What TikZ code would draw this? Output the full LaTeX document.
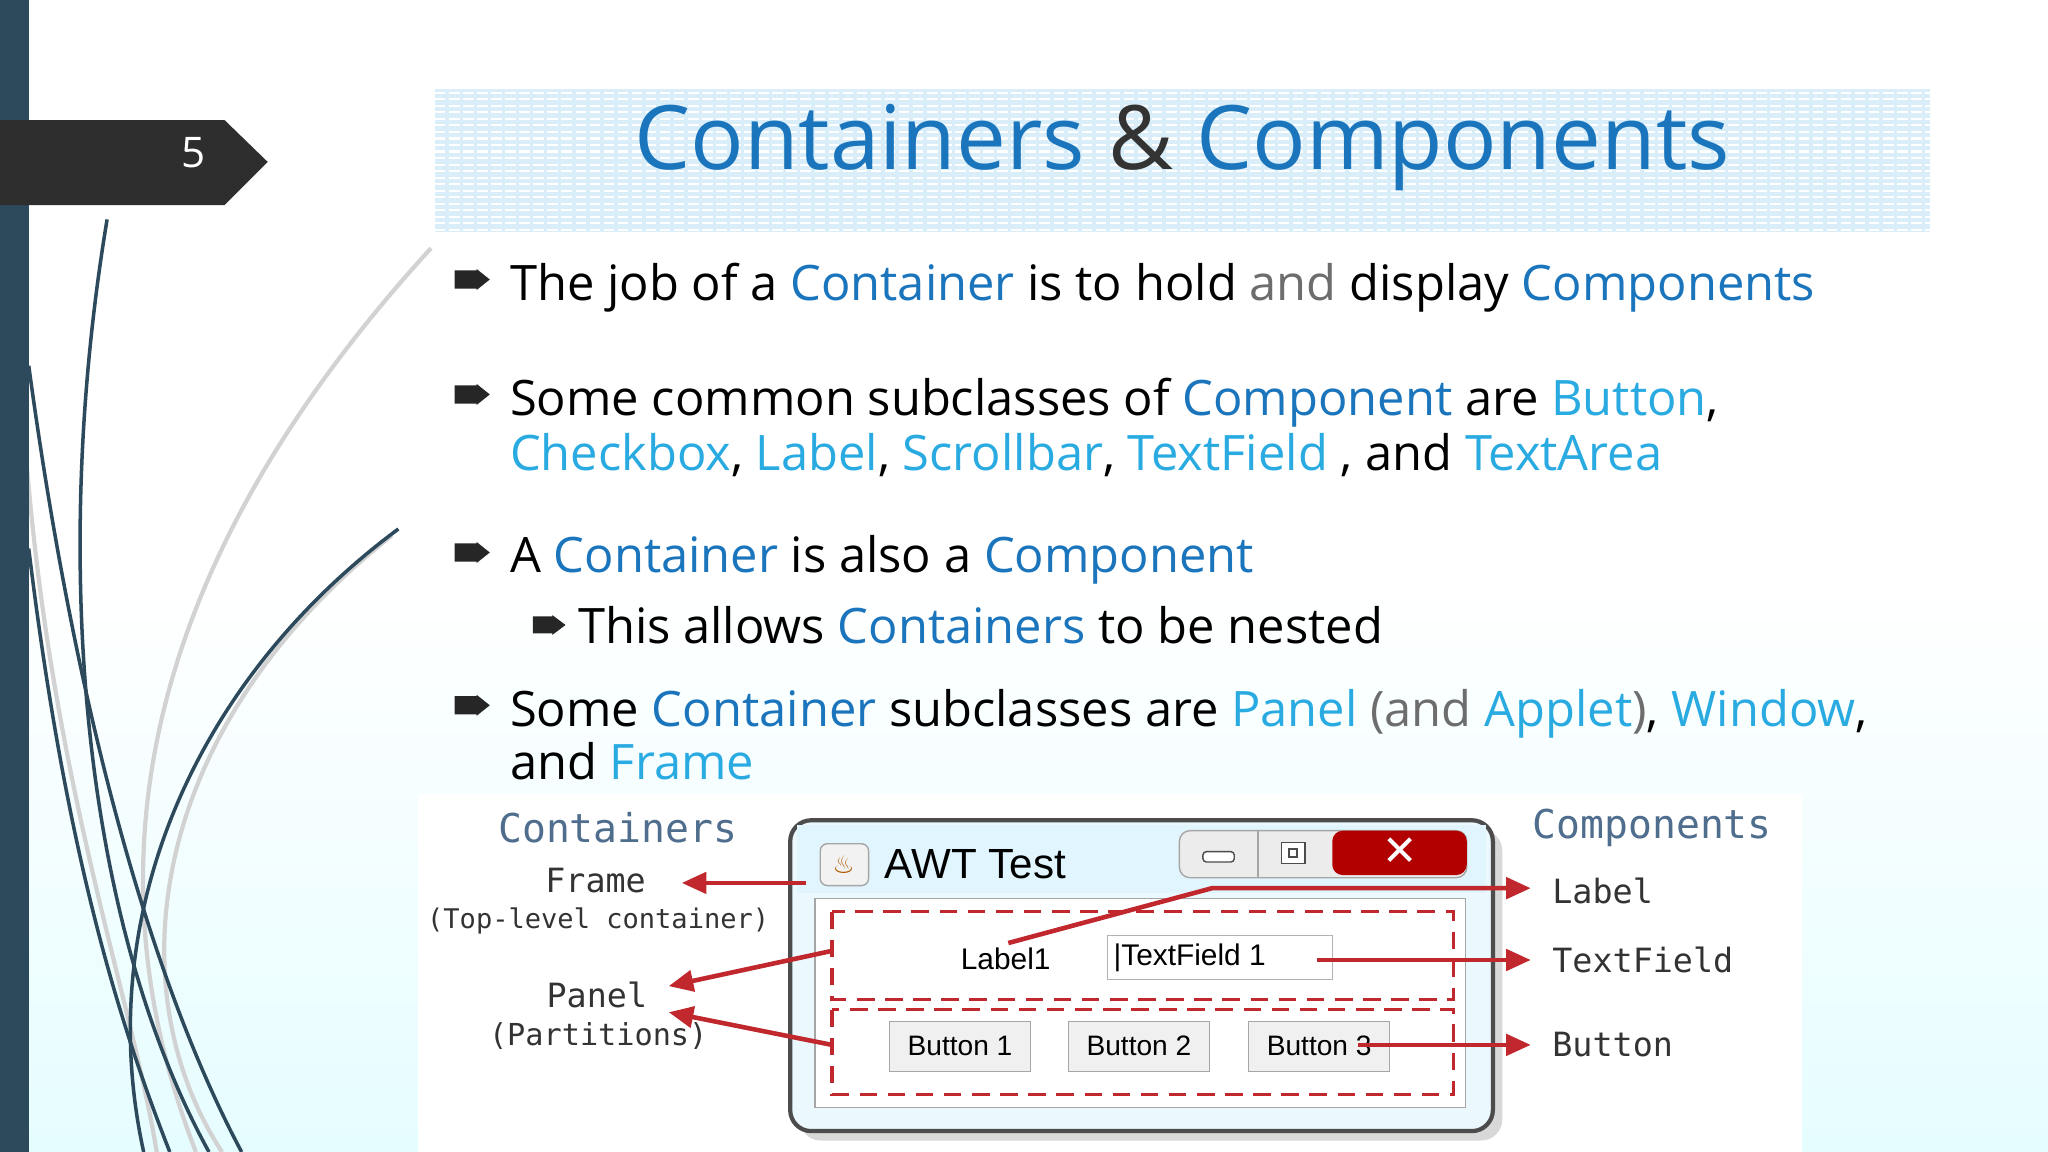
\documentclass[tikz,border=0pt]{standalone}
\usepackage{fontspec}
\setmainfont{Open Sans}
\newfontfamily\monof{DejaVu Sans Mono}
\newfontfamily\winf{Liberation Sans}
\newfontfamily\symf{DejaVu Sans}
\usetikzlibrary{arrows.meta,shadows}
\definecolor{dk}{HTML}{1B75BC}
\definecolor{lt}{HTML}{29ABE2}
\definecolor{gr}{HTML}{6D6D6D}
\definecolor{bar}{HTML}{2C4A5C}
\definecolor{arr}{HTML}{C0282D}
\definecolor{lbl}{HTML}{4F6E8E}
\definecolor{tbox}{HTML}{D9EEF8}
\tikzset{
 body/.style={anchor=base west,font=\fontsize{13.9}{17}\selectfont,text=black,inner sep=0},
 flab/.style={font=\monof\fontsize{9.5}{11}\selectfont,text=black!80,inner sep=0},
 fhead/.style={font=\monof\fontsize{11.3}{13}\selectfont,text=lbl,inner sep=0},
 redarr/.style={draw=arr,line width=1.3pt,-{Triangle[length=7pt,width=6pt]}},
 dashbox/.style={draw=arr,line width=0.9pt,dash pattern=on 5pt off 3pt},
 wbtn/.style={draw=gray!70,fill=gray!12,font=\winf\fontsize{8}{10}\selectfont,inner sep=0,minimum width=1.41cm,minimum height=0.5cm},
 curveA/.style={draw=bar,line width=1pt},
 curveB/.style={draw=gray!35,line width=1.2pt}
}
\newcommand{\dk}[1]{\textcolor{dk}{#1}}
\newcommand{\lt}[1]{\textcolor{lt}{#1}}
\newcommand{\grr}[1]{\textcolor{gr}{#1}}
\begin{document}
\begin{tikzpicture}[x=0.013061cm,y=-0.013061cm]
\useasboundingbox (0,0) rectangle (1568,882);
\fill[white] (0,0) rectangle (1568,450);
\shade[top color=white,bottom color=blue!8!cyan!10] (0,450) rectangle (1568,882);
% left curves
\draw[curveB] (330,190) .. controls (120,420) and (60,650) .. (150,882);
\draw[curveB] (300,410) .. controls (110,560) and (90,760) .. (170,882);
\draw[curveB] (20,350) .. controls (40,600) and (100,760) .. (120,882);
\draw[curveA] (82,168) .. controls (40,420) and (60,700) .. (160,882);
\draw[curveA] (305,405) .. controls (150,520) and (70,700) .. (110,882);
\draw[curveA] (22,280) .. controls (60,560) and (120,760) .. (185,882);
\draw[curveA] (22,420) .. controls (50,650) and (90,780) .. (130,882);
\fill[bar] (0,0) rectangle (22,882);
% number tab
\fill[black!82] (0,92) -- (172,92) -- (205,124) -- (172,157) -- (0,157) -- cycle;
\node[font=\fontsize{12}{14}\selectfont,text=white] (num) at (148,117) {5};
% title box
\fill[tbox] (333,68) rectangle (1478,178);
\foreach \yy in {71,76,...,176} \draw[white,line width=0.6pt,dash pattern=on 3pt off 1pt] (333,\yy) -- (1478,\yy);
\node[font=\fontsize{25.3}{30}\selectfont,inner sep=0,anchor=base] (title) at (905,130) {\dk{Containers} \textcolor{black!80}{\&} \dk{Components}};
% bullets
\foreach \bx/\by in {361/214,361/302,361/423,361/540}
  \fill[black!85] (\bx-13,\by-7) rectangle (\bx+4,\by+7) (\bx+4,\by-8) -- (\bx+14,\by) -- (\bx+4,\by+8) -- cycle;
\fill[black!85] (408,472) rectangle (423,485) (423,471) -- (433,478.5) -- (423,486) -- cycle;
\node[body] (l1) at (390,230) {The job of a \dk{Container} is to hold \grr{and} display \dk{Components}};
\node[body] (l2) at (390,318) {Some common subclasses of \dk{Component} are \lt{Button},};
\node[body] (l3) at (390,360) {\lt{Checkbox}, \lt{Label}, \lt{Scrollbar}, \lt{TextField} , and \lt{TextArea}};
\node[body] (l4) at (390,438) {A \dk{Container} is also a \dk{Component}};
\node[body] (l5) at (442,493) {This allows \dk{Containers} to be nested};
\node[body] (l6) at (390,556) {Some \dk{Container} subclasses are \lt{Panel} \grr{(and} \lt{Applet}\grr{)}, \lt{Window},};
\node[body] (l7) at (390,597) {and \lt{Frame}};
% figure
\fill[white] (320,608) rectangle (1380,882);
\node[fhead] (hc) at (473,634) {Containers};
\node[fhead] (hp) at (1265,634) {Components};
\node[flab] (fr) at (456,674) {Frame};
\node[flab,font=\monof\fontsize{7.7}{9}\selectfont] (tl) at (458,705) {(Top-level container)};
\node[flab] (pa) at (457,762) {Panel};
\node[flab,font=\monof\fontsize{8.6}{10}\selectfont] (pt) at (458,793) {(Partitions)};
\node[flab,anchor=west] (cl) at (1188,682) {Label};
\node[flab,anchor=west] (ct) at (1188,735) {TextField};
\node[flab,anchor=west] (cb) at (1188,800) {Button};
% window
\draw[gray!60!black,line width=1.2pt,fill=cyan!8,rounded corners=6pt,drop shadow={opacity=0.3}] (605,628) rectangle (1143,866);
\fill[cyan!12] (610,632) rectangle (1138,684);
\draw[gray!70,fill=white] (624,688) rectangle (1122,848);
\draw[gray!70,fill=gray!10,rounded corners=2pt] (628,646) rectangle (665,678);
\node[font=\symf\fontsize{7}{8}\selectfont,text=orange!70!black] (ic) at (646,662) {\char"2668};
\node[font=\winf\fontsize{12}{14}\selectfont,anchor=west,inner sep=0] (wt) at (677,662) {AWT Test};
\draw[gray!70,fill=gray!15,rounded corners=3pt] (903,636) rectangle (1123,672);
\draw[gray!70] (963,636) -- (963,672);
\fill[red!70!black,rounded corners=3pt] (1020,636) rectangle (1123,670);
\draw[gray!60!black,fill=white,rounded corners=1pt] (921,652) rectangle (945,660);
\draw[gray!60!black,fill=white] (981,645) rectangle (999,661) (987,650) rectangle (993,656);
\node[text=white,font=\symf\bfseries\fontsize{12}{12}\selectfont] (xx) at (1072,652) {✕};
\draw[dashbox] (637,698) rectangle (1113,765);
\draw[dashbox] (637,773) rectangle (1113,838);
\coordinate (pn1) at (637,728);
\coordinate (pn2) at (637,800);
\node[font=\winf\fontsize{8.5}{10}\selectfont,inner sep=1pt] (lab1) at (770,734) {Label1};
\node[draw=gray!60,fill=white,minimum width=2.25cm,minimum height=0.44cm,inner sep=0] (tf) at (934,733) {};
\node[font=\winf\fontsize{8.5}{10}\selectfont,anchor=west,inner sep=0] (tft) at (852,733) {\textbar TextField 1};
\node[wbtn] (b1) at (735,801) {Button 1};
\node[wbtn] (b2) at (872,801) {Button 2};
\node[wbtn] (b3) at (1010,801) {Button 3};
% arrows
\coordinate (fs) at (617,676);
\coordinate (fe) at (522,676);
\draw[redarr] (fs) -- (fe);
\coordinate (pe1) at (512,755);
\coordinate (pe2) at (512,775);
\draw[redarr] (pn1) -- (pe1);
\draw[redarr] (pn2) -- (pe2);
\coordinate (ls) at (772,722);
\coordinate (lk) at (928,680);
\coordinate (le) at (1172,680);
\draw[redarr] (ls) -- (lk) -- (le);
\coordinate (tfs) at (1008,735);
\coordinate (tfe) at (1172,735);
\draw[redarr] (tfs) -- (tfe);
\coordinate (bs) at (1040,800);
\coordinate (be) at (1172,800);
\draw[redarr] (bs) -- (be);
\end{tikzpicture}
\end{document}
